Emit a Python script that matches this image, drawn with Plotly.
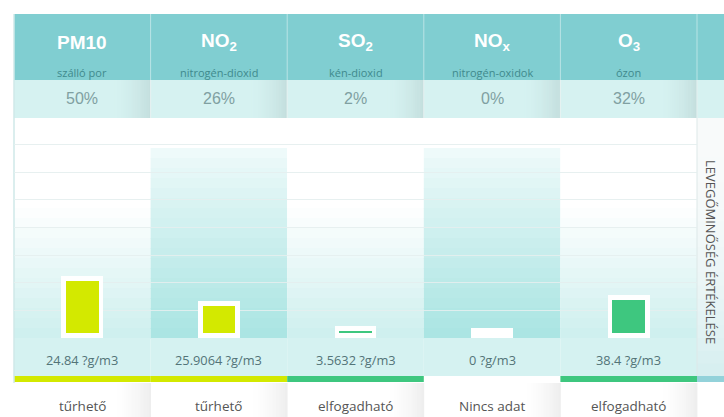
import plotly.graph_objects as go

# ---------------- data ----------------
categories = ["PM10", "NO2", "SO2", "NOx", "O3"]
symbols = ["PM10", "NO<sub>2</sub>", "SO<sub>2</sub>", "NO<sub>x</sub>", "O<sub>3</sub>"]
names = ["szálló por", "nitrogén-dioxid", "kén-dioxid", "nitrogén-oxidok", "ózon"]
percents = [50, 26, 2, 0, 32]
concentrations = ["24.84", "25.9064", "3.5632", "0", "38.4"]
unit = "?g/m3"
ratings = ["tűrhető", "tűrhető", "elfogadható", "Nincs adat", "elfogadható"]
side_title = "LEVEGŐMINŐSÉG ÉRTÉKELÉSE"

# ---------------- style ----------------
W, H = 724, 417
rating_colors = {"tűrhető": "#d3e900", "elfogadható": "#3ec77f", "Nincs adat": "rgba(255,255,255,0)"}
HEADER = "#80ced1"
PCT_ROW = "#d6f2f1"
LABEL_ROW = "#d5f2f1"
PAD = 4.8            # white frame around the bars, in axis units
X_LEFT, X_RIGHT = 14, 697
Y_TOP, Y_BOT = 118, 338


def px(v):
    return v / W


def py(v):
    return 1 - v / H


def mix(c1, c2, t):
    a = [int(c1[i:i + 2], 16) for i in (1, 3, 5)]
    b = [int(c2[i:i + 2], 16) for i in (1, 3, 5)]
    return "rgb(%d,%d,%d)" % tuple(round(a[k] + (b[k] - a[k]) * t) for k in range(3))


col_w = (X_RIGHT - X_LEFT) / len(categories)
shapes = []


def rect(x0, y0, x1, y1, color):
    shapes.append(dict(type="rect", xref="paper", yref="paper", layer="below",
                       x0=px(x0), x1=px(x1), y0=py(y1), y1=py(y0),
                       fillcolor=color, line=dict(width=0)))


def vline(x, y0, y1, color, w=1):
    shapes.append(dict(type="line", xref="paper", yref="paper", layer="below",
                       x0=px(x), x1=px(x), y0=py(y1), y1=py(y0),
                       line=dict(color=color, width=w)))


# header and percent rows
rect(X_LEFT, 14, W, 80, HEADER)
rect(X_LEFT, 80, W, 118, PCT_ROW)

# chart area background gradients per column
for i in range(len(categories)):
    x0 = X_LEFT + i * col_w
    x1 = x0 + col_w
    n = 22
    for k in range(n):
        ya = Y_TOP + (Y_BOT - Y_TOP) * k / n
        yb = Y_TOP + (Y_BOT - Y_TOP) * (k + 1) / n + 0.5
        ym = (ya + yb) / 2
        if i % 2 == 1:
            if ym < 145:
                c = "#ffffff"
            else:
                t = (ym - 145) / (Y_BOT - 145)
                c = mix("#f2fbfb", "#a9e4e2", t ** 0.9)
        else:
            if ym < 205:
                c = "#ffffff"
            else:
                t = (ym - 205) / (Y_BOT - 205)
                c = mix("#ffffff", "#cdefee", t)
        rect(x0, ya, x1, yb, c)
    # label row
    rect(x0, Y_BOT, x1, 376, LABEL_ROW)
    # right-edge shading in percent row and bottom row
    steps = 16
    for k in range(steps):
        t = ((k + 1) / steps) ** 1.6
        xa = x1 - 36 + k * 36 / steps
        xb = xa + 36 / steps + 0.4
        rect(xa, 80, xb, 118, mix("#d6f2f1", "#c4dfde", t))
        rect(xa, 383, xb, H, mix("#ffffff", "#eeeeee", t))
    # rating stripe
    rect(x0, 376, x1, 382, rating_colors[ratings[i]])

# right side strip
n = 20
for k in range(n):
    ya = Y_TOP + (376 - Y_TOP) * k / n
    yb = Y_TOP + (376 - Y_TOP) * (k + 1) / n + 0.5
    t = k / (n - 1)
    rect(X_RIGHT, ya, W, yb, mix("#f8fafa", "#d7eff0", t ** 2))
rect(X_RIGHT, 376, W, 382, "#93d2da")

# dividers
for i in range(1, len(categories) + 1):
    xd = X_LEFT + i * col_w
    vline(xd, 14, 80, "rgba(255,255,255,0.45)")
    vline(xd, 80, 118, "rgba(255,255,255,0.6)")
vline(X_RIGHT, 118, 376, "#dde8e8")
vline(X_LEFT, 14, 383, "#cfe8e9", 1.5)

# ---------------- traces ----------------
fig = go.Figure()
fig.add_trace(go.Bar(
    x=categories, y=[p + 2 * PAD for p in percents], base=-PAD,
    width=0.305, marker=dict(color="#ffffff", line=dict(width=0)),
    hoverinfo="skip", showlegend=False))
fig.add_trace(go.Bar(
    x=categories, y=percents, base=0, width=0.24,
    marker=dict(color=[rating_colors[r] for r in ratings], line=dict(width=0)),
    showlegend=False))

# ---------------- annotations ----------------
ann = []


def label(x, xref, y, text, font, **kw):
    ann.append(dict(x=x, xref=xref, y=py(y), yref="paper", text=text, showarrow=False,
                    xanchor="center", yanchor="middle", font=font, **kw))


for c, s, nm, p, v, r in zip(categories, symbols, names, percents, concentrations, ratings):
    label(c, "x", 42, "<b>%s</b>" % s,
          dict(family="Liberation Sans, Arial", size=19, color="#ffffff"))
    label(c, "x", 72, nm, dict(family="Open Sans", size=11, color="#3f8a8d"))
    label(c, "x", 99, "%d%%" % p, dict(family="Liberation Sans, Arial", size=16, color="#80a0a1"))
    label(c, "x", 360, "%s %s" % (v, unit), dict(family="Open Sans", size=12.8, color="#537478"))
    label(c, "x", 406, r, dict(family="Open Sans", size=13.5, color="#555555"))
label(px(711), "paper", 252, side_title, dict(family="Open Sans", size=13, color="#555555"),
      textangle=90)

fig.update_layout(
    width=W, height=H,
    margin=dict(l=0, r=0, t=0, b=0),
    paper_bgcolor="#ffffff", plot_bgcolor="rgba(0,0,0,0)",
    barmode="overlay", bargap=0,
    shapes=shapes, annotations=ann,
    xaxis=dict(domain=[px(X_LEFT), px(X_RIGHT)], showticklabels=False, showgrid=False,
               zeroline=False, showline=False, ticks="", fixedrange=True),
    yaxis=dict(domain=[py(Y_BOT), py(Y_TOP)], range=[-PAD, -PAD + (Y_BOT - Y_TOP) / 1.035],
               tick0=-PAD, dtick=26.7, showgrid=True, gridcolor="rgba(228,238,238,0.9)",
               gridwidth=1, showticklabels=False, zeroline=False, showline=False,
               ticks="", fixedrange=True),
)

fig.write_html("out.html")
